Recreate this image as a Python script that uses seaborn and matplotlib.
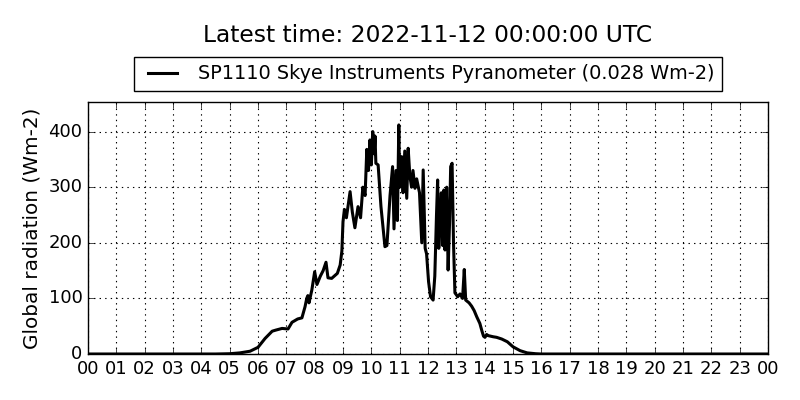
import numpy as np
import pandas as pd
import seaborn as sns
from matplotlib import pyplot as plt

plt.style.use('classic')

# hour of day (UTC) and global radiation (Wm-2)
hours = [0.0, 4.5, 5.0, 5.36, 5.72, 6.0, 6.25, 6.5, 6.63, 6.85, 7.06, 7.2, 7.4, 7.55,
         7.66, 7.72, 7.76, 7.8, 7.9, 8.0, 8.08, 8.2, 8.3, 8.4, 8.47, 8.6, 8.8, 8.9,
         8.96, 9.0, 9.05, 9.12, 9.25, 9.33, 9.42, 9.53, 9.62, 9.7, 9.78, 9.84, 9.9,
         9.95, 10.0, 10.05, 10.1, 10.13, 10.16, 10.24, 10.34, 10.48, 10.55, 10.66,
         10.75, 10.8, 10.87, 10.92, 10.97, 11.0, 11.07, 11.12, 11.18, 11.25, 11.3,
         11.36, 11.42, 11.47, 11.54, 11.6, 11.7, 11.78, 11.83, 11.9, 11.95, 12.02,
         12.09, 12.18, 12.24, 12.3, 12.34, 12.38, 12.42, 12.47, 12.52, 12.56, 12.6,
         12.66, 12.71, 12.76, 12.8, 12.85, 12.9, 12.95, 13.05, 13.13, 13.22, 13.28,
         13.33, 13.45, 13.54, 13.63, 13.72, 13.83, 13.9, 13.96, 14.01, 14.07, 14.13,
         14.3, 14.42, 14.6, 14.8, 15.0, 15.25, 15.5, 15.8, 16.0, 24.0]
radiation = [0, 0, 0.5, 2, 5, 12, 28, 41, 43, 46, 45, 57, 63, 65,
             85, 100, 105, 92, 115, 148, 125, 140, 150, 165, 137, 136, 145, 160,
             185, 238, 260, 245, 292, 255, 227, 265, 245, 300, 285, 368, 330,
             385, 340, 400, 360, 392, 343, 340, 265, 193, 195, 285,
             337, 225, 330, 240, 412, 300, 355, 290, 365, 280, 370,
             320, 300, 330, 298, 315, 290, 200, 331, 190, 180, 130,
             103, 97, 140, 250, 313, 190, 230, 290, 195, 295, 187,
             300, 151, 235, 337, 343, 200, 110, 103, 108, 100, 152,
             97, 92, 86, 78, 67, 55, 42, 32, 30, 35, 33,
             31, 30, 27, 22, 13, 6, 2, 0.5, 0, 0]

tick_labels = ['%02d' % (h % 24) for h in range(25)]
label = 'SP1110 Skye Instruments Pyranometer (0.028 Wm-2)'

df = pd.DataFrame({'hour': hours, 'rad': radiation})

fig = plt.figure(figsize=(8, 4), dpi=100, facecolor='white')
ax = fig.add_axes([0.11, 0.115, 0.85, 0.63])

sns.lineplot(data=df, x='hour', y='rad', ax=ax, color='black', linewidth=2.2,
             label=label)

ax.set_xlim(0, 24)
ax.set_ylim(0, max(radiation) * 1.1)
ax.set_xticks(range(25))
ax.set_xticklabels(tick_labels, fontsize=13)
ax.set_yticks([0, 100, 200, 300, 400])
ax.tick_params(axis='y', labelsize=13)
ax.set_xlabel('')
ax.set_ylabel('Global radiation (Wm-2)', fontsize=14.4)
ax.grid(True, color='black', linestyle=':', linewidth=0.8)

ax.legend(loc='lower center', bbox_to_anchor=(0.5, 1.005), fontsize=13.9,
          frameon=True, fancybox=False, handlelength=2.1)
# title centred over the axes, not the figure
fig.text(0.535, 0.912, 'Latest time: 2022-11-12 00:00:00 UTC', fontsize=16.8,
         ha='center', va='center')

fig.savefig('out.png', dpi=100, facecolor='white')
